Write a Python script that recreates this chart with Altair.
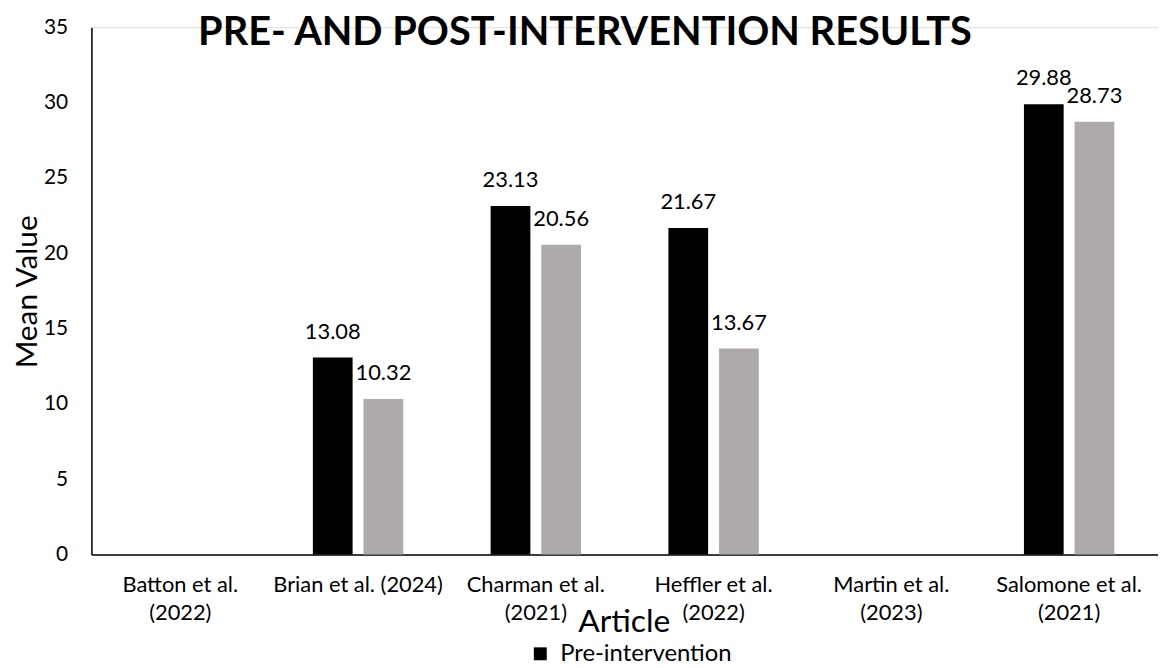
import altair as alt
import pandas as pd

TITLE = "PRE- AND POST-INTERVENTION RESULTS"
articles = ["Batton et al. (2022)", "Brian et al. (2024)", "Charman et al. (2021)",
            "Heffler et al. (2022)", "Martin et al. (2023)", "Salomone et al. (2021)"]
pre = [None, 13.08, 23.13, 21.67, None, 29.88]
post = [None, 10.32, 20.56, 13.67, None, 28.73]
series = ["Pre-intervention", "Post-intervention"]
colors = ["#000000", "#AEAAAA"]
y_ticks = [0, 5, 10, 15, 20, 25, 30, 35]

rows = []
for a, p, q in zip(articles, pre, post):
    rows.append({"Article": a, "Series": series[0], "Value": p})
    rows.append({"Article": a, "Series": series[1], "Value": q})
df = pd.DataFrame(rows)

FONT = "Lato"

label_expr = ("datum.label == 'Brian et al. (2024)' ? datum.label : "
              "[slice(datum.label, 0, indexof(datum.label, ' (')), "
              "slice(datum.label, indexof(datum.label, ' (') + 1)]")

x_enc = alt.X(
    "Article:N", sort=articles,
    scale=alt.Scale(domain=articles, paddingInner=0.4916, paddingOuter=0.2458),
    axis=alt.Axis(title="Article", labelAngle=0, labelExpr=label_expr,
                  labelFont=FONT, labelFontSize=22, labelColor="#000000",
                  labelLineHeight=28, labelPadding=20, ticks=False, labelLimit=300,
                  domainColor="#000000", domainWidth=1.5,
                  titleFont=FONT, titleFontSize=32, titleFontWeight="normal",
                  titleColor="#000000", titleX=536, titleY=78,
                  titleBaseline="alphabetic", titleAlign="center"),
)
xoff_enc = alt.XOffset("Series:N", sort=series,
                       scale=alt.Scale(domain=series, paddingInner=0.2157, paddingOuter=0))
y_enc = alt.Y(
    "Value:Q",
    scale=alt.Scale(domain=[0, 35], nice=False),
    axis=alt.Axis(title="Mean Value", values=y_ticks, grid=False, ticks=False,
                  labelFont=FONT, labelFontSize=21, labelColor="#000000",
                  labelPadding=24, domainColor="#000000", domainWidth=1.5,
                  titleFont=FONT, titleFontSize=30, titleFontWeight="normal",
                  titleColor="#000000", titleX=-55, titleY=266, titleAngle=-90,
                  titleBaseline="alphabetic", titleAlign="center"),
)
color_enc = alt.Color(
    "Series:N", sort=series,
    scale=alt.Scale(domain=series, range=colors),
    legend=alt.Legend(title=None, orient="none", legendX=440, legendY=619,
                      direction="vertical", symbolType="square", symbolSize=169,
                      symbolStrokeWidth=0, labelFont=FONT, labelFontSize=24,
                      labelColor="#000000", rowPadding=8, padding=0,
                      labelOffset=8, labelLimit=500),
)

base = alt.Chart(df).transform_filter("isValid(datum.Value)").encode(
    x=x_enc, xOffset=xoff_enc, y=y_enc
)

bars = base.mark_bar().encode(color=color_enc)
labels = base.mark_text(dy=-19, baseline="alphabetic", font=FONT, fontSize=22,
                        color="#000000").encode(text=alt.Text("Value:Q", format=".2f"))

title_layer = alt.Chart(pd.DataFrame({"title": [TITLE]})).mark_text(
    font=FONT, fontSize=40, fontWeight="bold", color="#000000",
    align="center", baseline="alphabetic"
).encode(text="title:N", x=alt.value(497), y=alt.value(18))

chart = alt.layer(bars, labels, title_layer).properties(
    width=1074, height=531,
    autosize=alt.AutoSizeParams(type="none"),
    padding={"left": 84, "top": 17, "right": 0, "bottom": 112},
).configure_view(stroke=None).configure(background="#ffffff")

chart.save("out.html", embed_options={"renderer": "svg", "actions": False})
